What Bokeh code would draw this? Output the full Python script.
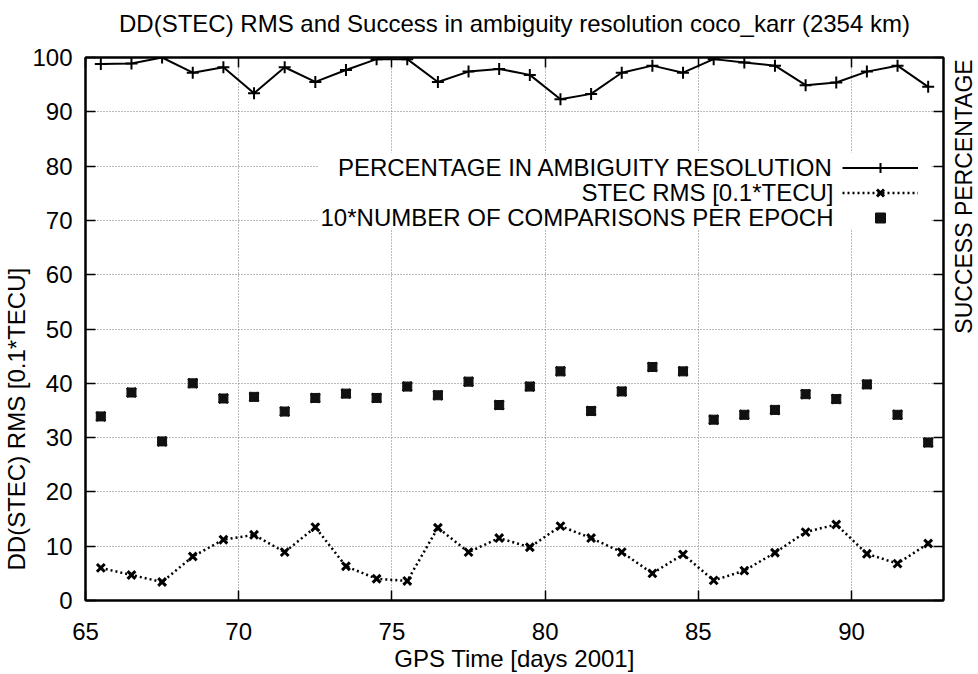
import math
from bokeh.plotting import figure
from bokeh.layouts import row
from bokeh.models import (Range1d, LinearAxis, SingleIntervalTicker, Label, Legend,
                          LegendItem, BoxAnnotation, Title, CustomLabelingPolicy)
from bokeh.core.properties import value
from bokeh.embed import file_html
from bokeh.resources import INLINE

# ---- data ----
days = [65.5, 66.5, 67.5, 68.5, 69.5, 70.5, 71.5, 72.5, 73.5, 74.5,
        75.5, 76.5, 77.5, 78.5, 79.5, 80.5, 81.5, 82.5, 83.5, 84.5,
        85.5, 86.5, 87.5, 88.5, 89.5, 90.5, 91.5, 92.5]
success_pct = [98.8, 98.9, 100.0, 97.2, 98.2, 93.4, 98.2, 95.5, 97.7, 99.7,
               99.7, 95.5, 97.4, 97.9, 96.8, 92.3, 93.3, 97.2, 98.5, 97.2,
               99.7, 99.1, 98.5, 94.9, 95.4, 97.4, 98.5, 94.6]
stec_rms = [6.0, 4.7, 3.4, 8.1, 11.2, 12.1, 8.9, 13.5, 6.3, 4.0,
            3.6, 13.4, 8.9, 11.5, 9.8, 13.7, 11.5, 8.9, 5.0, 8.5,
            3.7, 5.5, 8.8, 12.6, 14.0, 8.6, 6.8, 10.5]
comparisons10 = [33.9, 38.3, 29.3, 40.0, 37.2, 37.5, 34.8, 37.3, 38.1, 37.3,
                 39.4, 37.8, 40.3, 36.0, 39.4, 42.2, 34.9, 38.5, 43.0, 42.2,
                 33.3, 34.2, 35.1, 38.0, 37.1, 39.8, 34.2, 29.1]
series_names = ["PERCENTAGE IN AMBIGUITY RESOLUTION",
                "STEC RMS [0.1*TECU]",
                "10*NUMBER OF COMPARISONS PER EPOCH"]
title_text = "DD(STEC) RMS and Success in ambiguity resolution coco_karr (2354 km)"
x_title = "GPS Time [days 2001]"
y_title = "DD(STEC) RMS [0.1*TECU]"
y2_title = "SUCCESS PERCENTAGE"

FONT = "Liberation Sans"
FS = "24px"

p = figure(width=945, height=674, output_backend="svg", toolbar_location=None,
           x_range=Range1d(65, 93), y_range=Range1d(0, 100),
           title_location=None,
           min_border_left=85, min_border_right=2, min_border_top=57,
           min_border_bottom=74)
p.background_fill_color = "white"
p.border_fill_color = "white"
p.outline_line_color = "black"
p.outline_line_width = 2
p.outline_line_alpha = 1

p.xaxis.ticker = SingleIntervalTicker(interval=5, num_minor_ticks=0)
p.yaxis.ticker = SingleIntervalTicker(interval=10, num_minor_ticks=0)


def style_axis(ax, show_labels=True):
    ax.axis_line_color = "black"
    ax.axis_line_width = 2
    ax.major_tick_in = 10
    ax.major_tick_out = 0
    ax.minor_tick_in = 0
    ax.minor_tick_out = 0
    ax.major_tick_line_width = 1.5
    ax.major_tick_line_color = "black"
    ax.major_label_text_font = FONT
    ax.major_label_text_color = "black"
    ax.axis_label_text_font = FONT
    ax.axis_label_text_font_size = FS
    ax.axis_label_text_font_style = "normal"
    ax.axis_label_text_color = "black"
    if show_labels:
        ax.major_label_text_font_size = FS
    else:
        ax.major_label_text_font_size = "0px"
        ax.major_label_standoff = 0
        ax.major_label_policy = CustomLabelingPolicy(code="return new Set()")


style_axis(p.xaxis[0])
style_axis(p.yaxis[0])
p.xaxis.major_label_standoff = 22
p.yaxis.major_label_standoff = 13
p.xaxis.axis_label = x_title
p.xaxis.axis_label_standoff = 2

# top axis: mirrored ticks, carries the chart title as its label
top_ax = LinearAxis(ticker=SingleIntervalTicker(interval=5, num_minor_ticks=0))
style_axis(top_ax, show_labels=False)
top_ax.axis_label = title_text
top_ax.axis_label_standoff = 21
p.add_layout(top_ax, "above")

right_ax = LinearAxis(ticker=SingleIntervalTicker(interval=10, num_minor_ticks=0))
style_axis(right_ax, show_labels=False)
p.add_layout(right_ax, "right")

# left axis title (reads bottom-to-top, sits lower than centre as in the reference)
p.add_layout(Title(text=y_title, align="left", offset=30, standoff=0,
                   text_font=FONT, text_font_size=FS, text_font_style="normal",
                   text_color="black"), "left")

for g in (p.xgrid[0], p.ygrid[0]):
    g.grid_line_color = "#777777"
    g.grid_line_width = 1
    g.grid_line_dash = "1 2"

# white area behind the key (gnuplot hides the grid there)
box = BoxAnnotation(left=72.6, right=92.6, bottom=68.5, top=82.5,
                    fill_color="white", fill_alpha=1.0, line_alpha=0.0,
                    level="underlay")
p.add_layout(box)

r1 = p.line(days, success_pct, line_color="black", line_width=2)
r1m = p.scatter(days, success_pct, marker="cross", size=12,
                line_color="black", line_width=2)
r2 = p.line(days, stec_rms, line_color="black", line_width=2.5, line_dash="2 3")
r2m = p.scatter(days, stec_rms, marker="x", size=11,
                line_color="black", line_width=3)
r3a = p.scatter(days, comparisons10, marker="square", size=9,
                fill_color="#111111", line_color="#111111")
r3b = p.scatter(days, comparisons10, marker="x", size=13,
                line_color="#111111", line_width=2.5)

legend = Legend(items=[LegendItem(label=value(""), renderers=[r1, r1m]),
                       LegendItem(label=value(""), renderers=[r2, r2m]),
                       LegendItem(label=value(""), renderers=[r3a, r3b])],
                location=(757, 370), glyph_width=76, glyph_height=25,
                label_width=0, label_height=25, label_standoff=0,
                label_text_font_size="1px", padding=0, margin=0, spacing=0,
                border_line_alpha=0, background_fill_alpha=0)
p.add_layout(legend)

for name, yy in zip(series_names, [433, 408, 383]):
    p.add_layout(Label(x=748, y=yy, x_units="screen", y_units="screen",
                       text=name, text_align="right", text_baseline="middle",
                       text_font=FONT, text_font_size=FS, text_color="black"))

# narrow strip on the right carrying the y2 label (bottom-to-top)
side = figure(width=33, height=674, output_backend="svg", toolbar_location=None,
              x_range=Range1d(0, 1), y_range=Range1d(0, 1),
              x_axis_type=None, y_axis_type=None, title_location=None,
              min_border=0)
side.outline_line_color = None
side.background_fill_color = "white"
side.border_fill_color = "white"
side.add_layout(Label(x=18, y=404, x_units="screen", y_units="screen",
                      text=y2_title, text_align="center", text_baseline="middle",
                      angle=math.pi / 2, text_font=FONT, text_font_size="23px",
                      text_color="black"))

layout = row(p, side, spacing=0)
open("out.html", "w").write(file_html(layout, INLINE))
